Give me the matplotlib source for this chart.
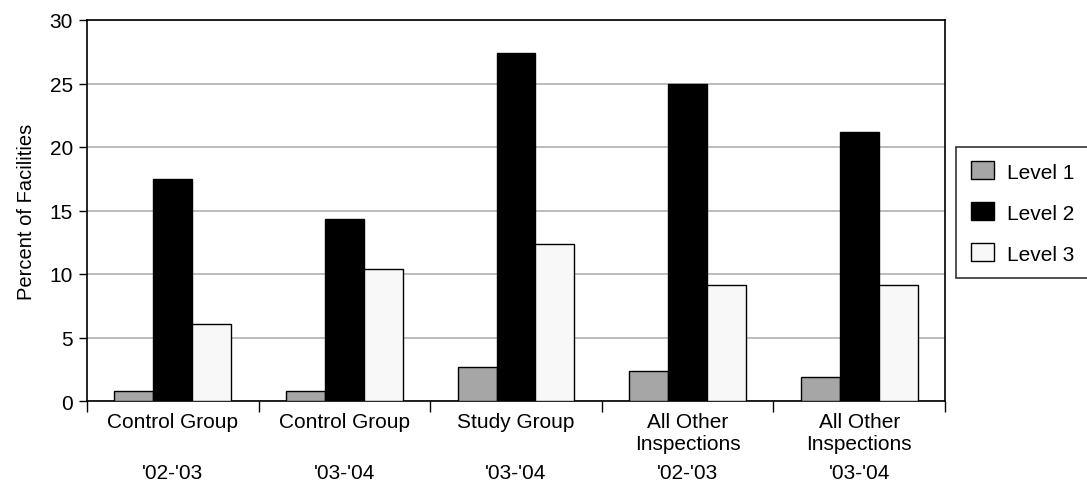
import numpy as np
import matplotlib.pyplot as plt
from matplotlib.transforms import blended_transform_factory

plt.rcParams['font.family'] = ['Liberation Sans', 'DejaVu Sans']

groups = ['Control Group', 'Control Group', 'Study Group', 'All Other\nInspections', 'All Other\nInspections']
years = ["'02-'03", "'03-'04", "'03-'04", "'02-'03", "'03-'04"]
level1 = [0.8, 0.8, 2.7, 2.4, 1.9]
level2 = [17.5, 14.3, 27.4, 25.0, 21.2]
level3 = [6.1, 10.4, 12.4, 9.1, 9.1]

fig = plt.figure(figsize=(10.87, 4.89), dpi=100)
ax = fig.add_axes([87 / 1087, 1 - 402 / 489, 858 / 1087, 381 / 489])

x = np.arange(len(groups))
w = 0.227
ax.bar(x - w, level1, w, color='#a6a6a6', edgecolor='black', linewidth=1, label='Level 1', zorder=3)
ax.bar(x, level2, w, color='black', edgecolor='black', linewidth=1, label='Level 2', zorder=3)
ax.bar(x + w, level3, w, color='#f8f8f8', edgecolor='black', linewidth=1, label='Level 3', zorder=3)

ax.set_xlim(-0.5, len(groups) - 0.5)
ax.set_ylim(0, 30)
ax.set_yticks(range(0, 31, 5))
ax.tick_params(axis='y', labelsize=15, length=6, width=1, pad=4)
ax.yaxis.grid(True, color='#b0b0b0', linewidth=1.2, zorder=0)
ax.set_axisbelow(True)
ax.set_ylabel('Percent of Facilities', fontsize=14.5, labelpad=10)

# major ticks at group boundaries, labels at centers
ax.set_xticks(np.arange(-0.5, len(groups), 1.0))
ax.set_xticklabels([])
ax.set_xticks(x, minor=True)
ax.set_xticklabels(groups, minor=True, fontsize=15, va='top', linespacing=1.2)
ax.tick_params(axis='x', which='major', length=8, width=1)
ax.tick_params(axis='x', which='minor', length=0, pad=8)

trans = blended_transform_factory(ax.transData, fig.transFigure)
for xi, yr in zip(x, years):
    ax.text(xi, 1 - 474 / 489, yr, transform=trans, ha='center', va='center', fontsize=15)

for s in ax.spines.values():
    s.set_linewidth(1.2)
    s.set_color('black')

leg = ax.legend(loc='center left', bbox_to_anchor=(956 / 1087, 1 - 213.5 / 489),
                bbox_transform=fig.transFigure, fontsize=15, frameon=True, fancybox=False,
                handlelength=1.1, handleheight=0.95, labelspacing=1.0, borderpad=0.7,
                handletextpad=0.65, borderaxespad=0)
leg.get_frame().set_edgecolor('black')
leg.get_frame().set_linewidth(1.2)

fig.savefig('out.png', dpi=100)
